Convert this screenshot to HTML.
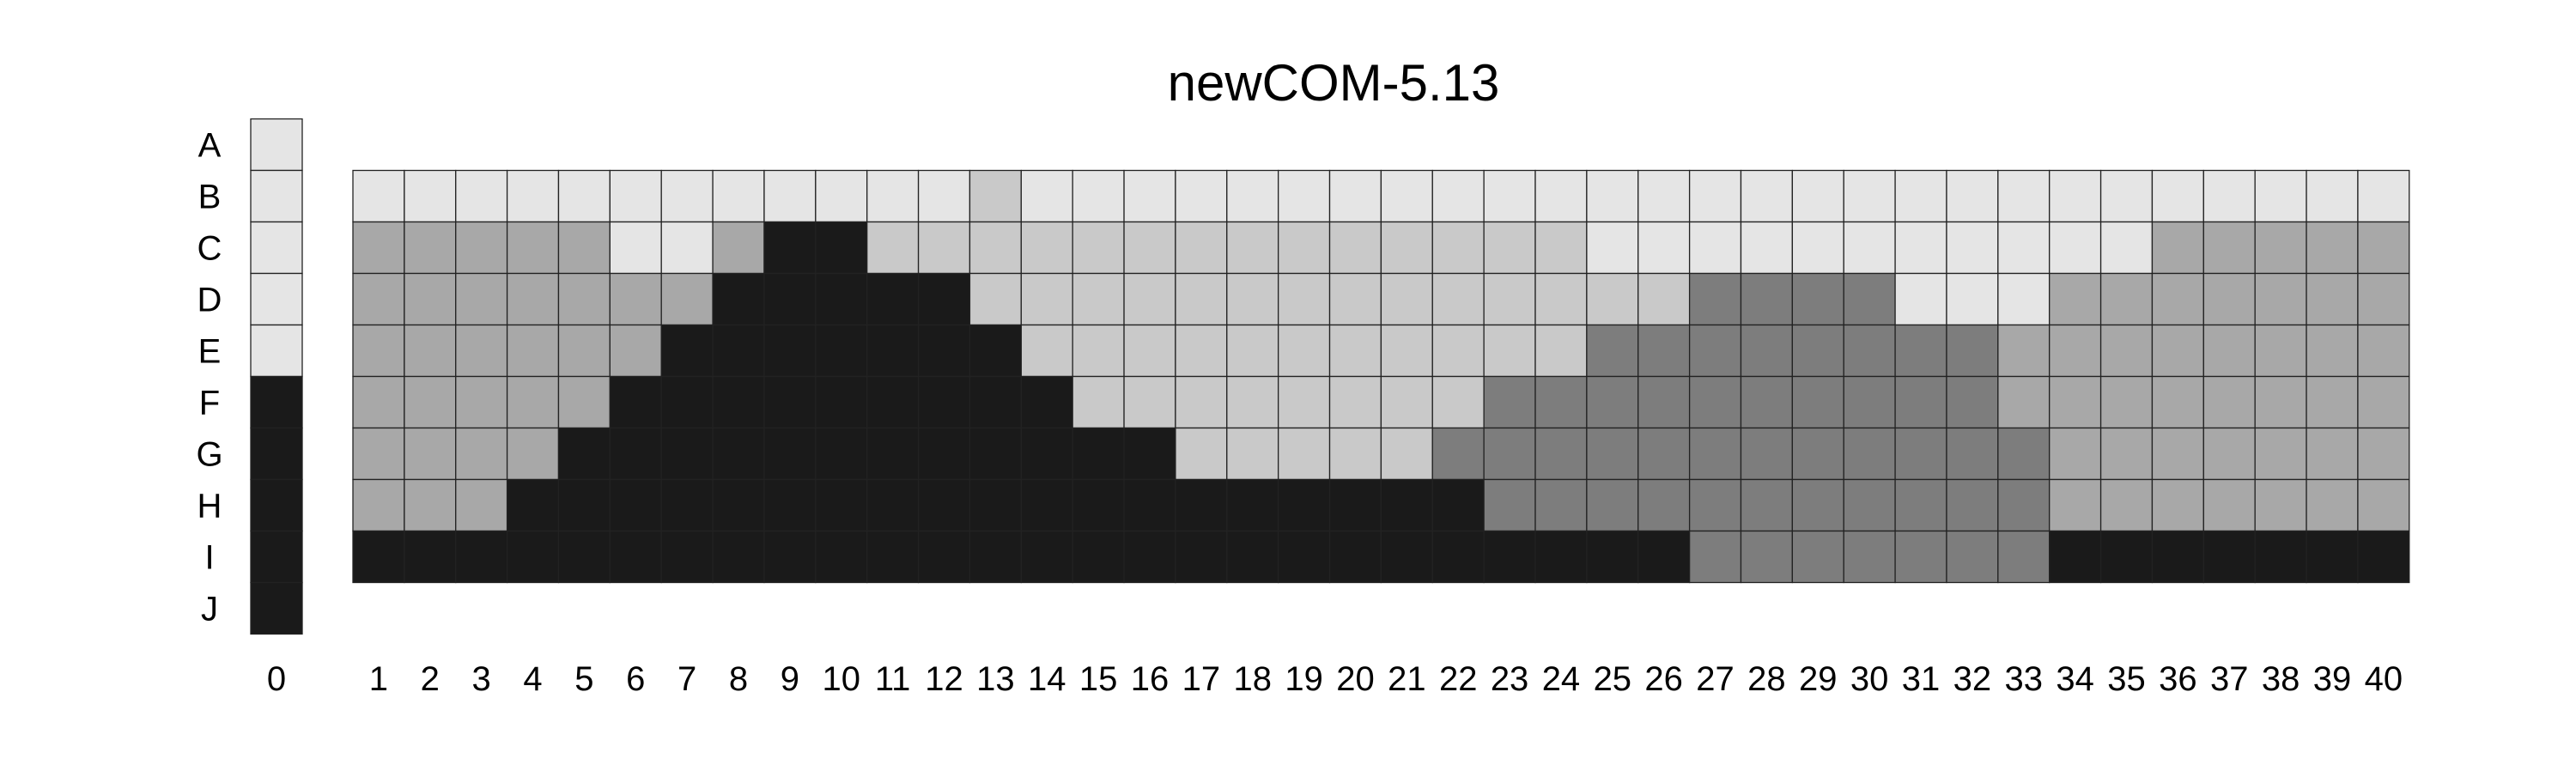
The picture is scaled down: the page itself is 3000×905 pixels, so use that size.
<!DOCTYPE html>
<html><head><meta charset="utf-8"><style>
html,body{margin:0;padding:0;background:#fff;}
svg text{font-family:"Liberation Sans",sans-serif;fill:#000;}
</style></head><body>
<svg id="chart" width="3000" height="900" xmlns="http://www.w3.org/2000/svg">
<text x="1553" y="117" font-size="60" text-anchor="middle">newCOM-5.13</text>
<g id="cells"></g>
<g id="labels"></g>
</svg>
<script>
const rowLabels = ["A","B","C","D","E","F","G","H","I","J"];
const colLabels = ["1","2","3","4","5","6","7","8","9","10","11","12","13","14","15","16","17","18","19","20","21","22","23","24","25","26","27","28","29","30","31","32","33","34","35","36","37","38","39","40"];
const refColumn = [0,0,0,0,0,4,4,4,4,4];
const rowB = "0000000000001000000000000000000000000000";
const rowC = "2222200244111111111111110000000000022222";
const rowD = "2222222444441111111111111133330002222222";
const rowE = "2222224444444111111111113333333322222222";
const rowF = "2222244444444411111111333333333322222222";
const rowG = "2222444444444444111113333333333332222222";
const rowH = "2224444444444444444444333333333332222222";
const rowI = "4444444444444444444444444433333334444444";
const gridRows = [rowB,rowC,rowD,rowE,rowF,rowG,rowH,rowI];
const palette = ["#e5e5e5","#c9c9c9","#a8a8a8","#7d7d7d","#1a1a1a"];

const NS = "http://www.w3.org/2000/svg";
const cellW = 59.87, cellH = 60;
const refX = 292, refY = 138.5;
const gx = 411, gy = 198.5;
const xPos = i => gx + i*cellW;
const yPos = r => gy + r*cellH;
const cells = document.getElementById('cells');
const labels = document.getElementById('labels');

function rect(x,y,w,h,fill){
  const r = document.createElementNS(NS,'rect');
  r.setAttribute('x',x);r.setAttribute('y',y);r.setAttribute('width',w);r.setAttribute('height',h);
  r.setAttribute('fill',fill);r.setAttribute('stroke','#222');r.setAttribute('stroke-width','1.3');
  return r;
}
function text(x,y,s,size){
  const t = document.createElementNS(NS,'text');
  t.setAttribute('x',x);t.setAttribute('y',y);t.setAttribute('font-size',size);
  t.setAttribute('text-anchor','middle');t.textContent = s;
  return t;
}
refColumn.forEach((v,i)=>{
  const r = rect(refX, refY+i*cellH, 60, cellH, palette[v]);
  
  
  cells.appendChild(r);
  const t = text(244, refY+i*cellH+44, rowLabels[i], 40);
  
  
  labels.appendChild(t);
});
gridRows.forEach((row,ri)=>{
  for(let c=0;c<row.length;c++){
    const r = rect(xPos(c), yPos(ri), cellW, cellH, palette[+row[c]]);
    
    
    cells.appendChild(r);
  }
});
const t0 = text(refX+30, 804, "0", 40);


labels.appendChild(t0);
colLabels.forEach((s,i)=>{
  const t = text(xPos(i)+cellW/2, 804, s, 40);
  
  
  labels.appendChild(t);
});
</script>
</body></html>
